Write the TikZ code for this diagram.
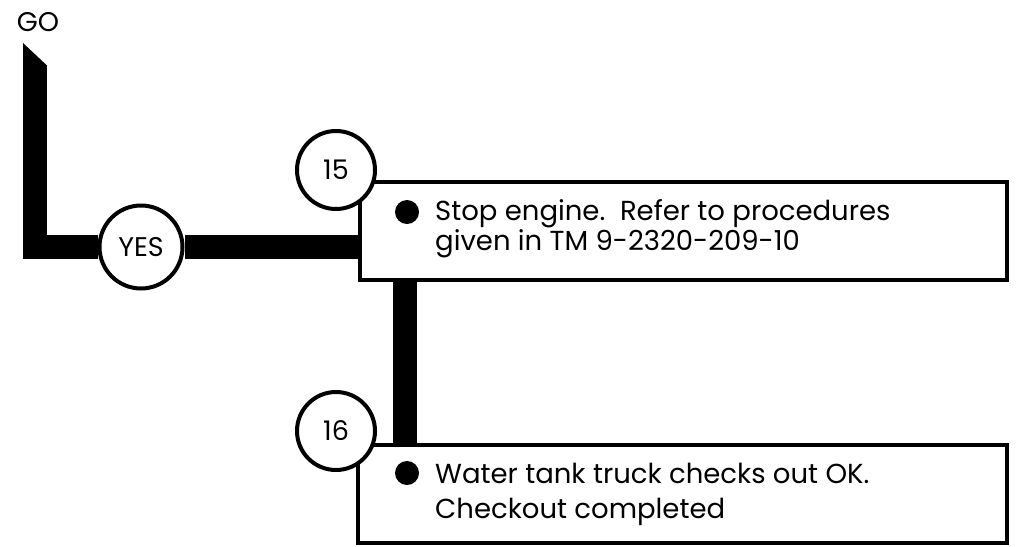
\documentclass[tikz,border=0pt]{standalone}
\usepackage{fontspec}
\usepackage{tikz}
\usetikzlibrary{calc,positioning,backgrounds}
\newfontfamily\gothic{Poppins}

\begin{document}
\begin{tikzpicture}[x=1pt,y=-1pt,
    bar/.style={line width=24pt,black},
    stepbox/.style={draw,rectangle,line width=3.5pt,fill=white,inner sep=0pt,minimum height=98pt},
    numcirc/.style={draw,circle,line width=4pt,fill=white,inner sep=0pt,font=\gothic\fontsize{27}{32}\selectfont},
    bullet/.style={circle,fill=black,minimum size=24pt,inner sep=0pt},
    steptext/.style={anchor=base west,inner sep=0pt,font=\gothic\fontsize{27.5}{32}\selectfont}]
        \useasboundingbox (0,0) rectangle (1016,546);
        \node[anchor=base,inner sep=0pt,font=\gothic\fontsize{27}{32}\selectfont] (go) at (38,31) {GO};
        \coordinate (gotop) at (35,65);
        \coordinate (drop) at (405,0);
        \node[stepbox,minimum width=647pt] (s15) at (683.5,231) {};
        \node[stepbox,minimum width=649pt] (s16) at (682.5,494) {};
        \node[numcirc,minimum size=83pt] (yes) at (141,247) {YES};
        \node[numcirc,minimum size=78pt] (n15) at (336,170) {15};
        \node[numcirc,minimum size=78pt] (n16) at (336,431) {16};
        \node[bullet] (b15) at (407,212) {};
        \node[bullet] (b16) at (407,473) {};
        \node[steptext] (t15a) at (435,220) {Stop engine.\ \ Refer to procedures};
        \node[steptext] (t15b) at (435,250) {given in TM 9-2320-209-10};
        \node[steptext] (t16a) at (435,483) {Water tank truck checks out OK.};
        \node[steptext] (t16b) at (435,518) {Checkout completed};
        \begin{scope}[on background layer]
          \draw[bar] (gotop) |- (yes);
          \fill (23,43) -- (47,65.5) -- (47,66) -- (23,66) -- cycle;
          \draw[bar] (yes) -- (s15.west |- yes);
          \draw[bar] (s15.south -| drop) -- (s16.north -| drop);
        \end{scope}
      \end{tikzpicture}
\end{document}
